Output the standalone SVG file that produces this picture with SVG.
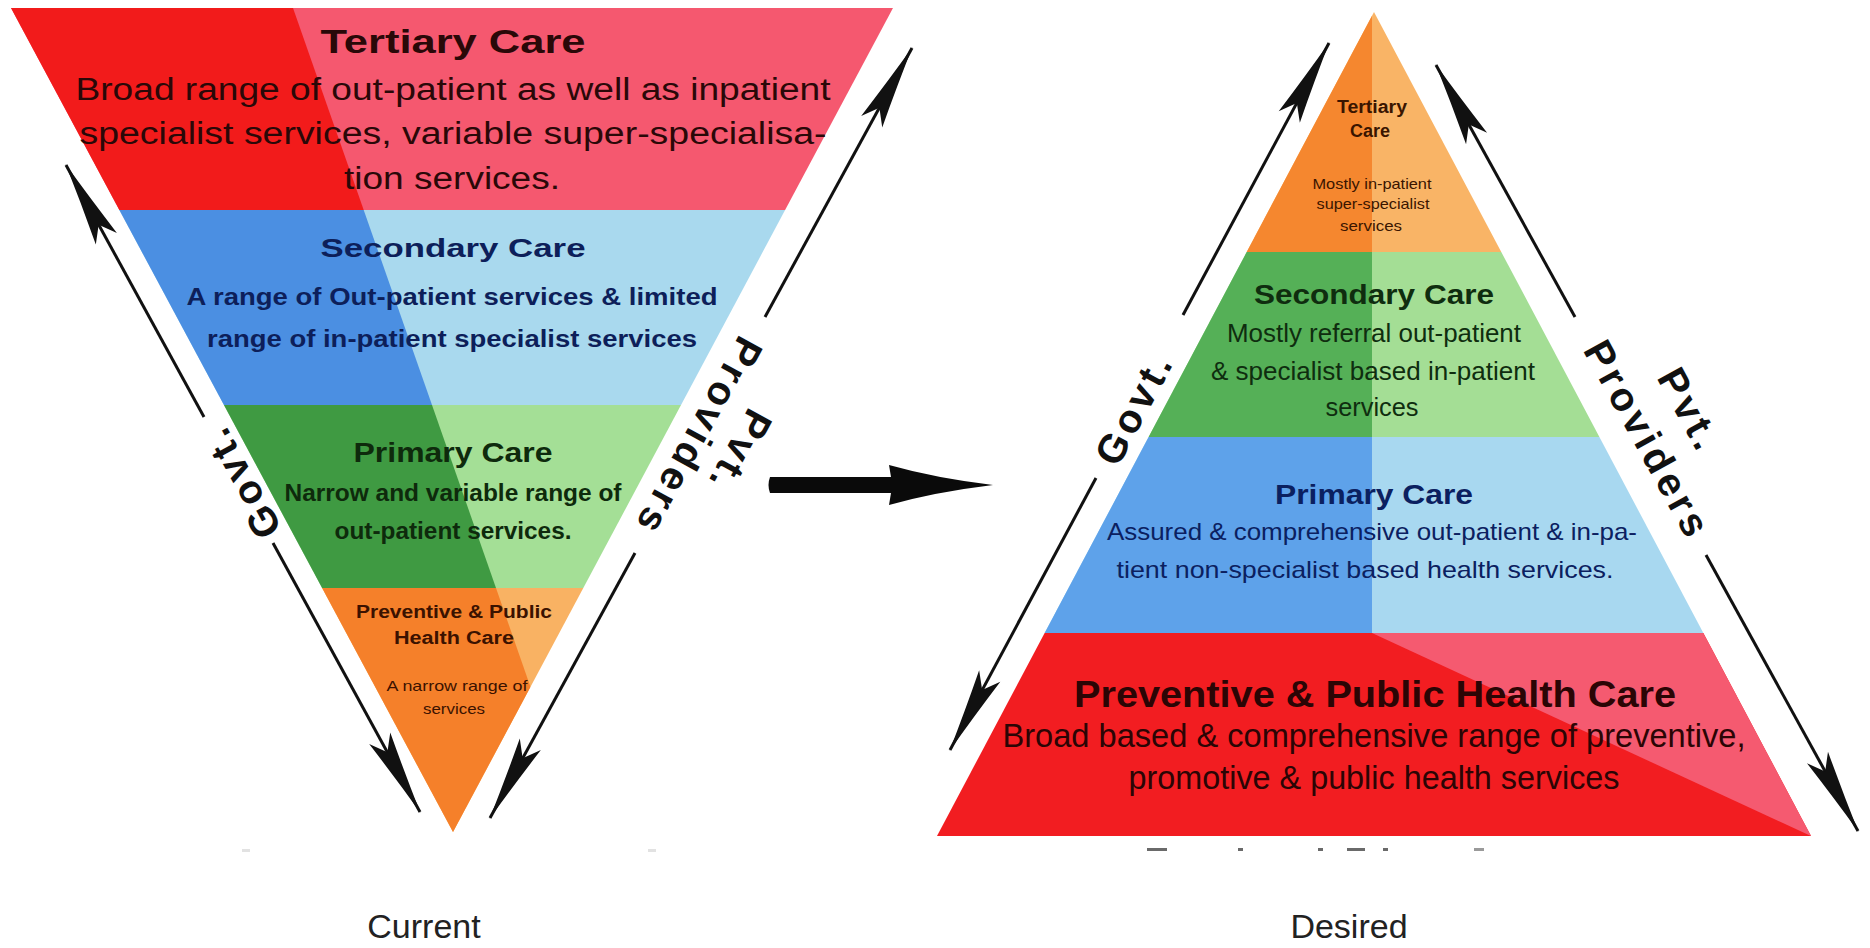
<svg xmlns="http://www.w3.org/2000/svg" width="1870" height="948" viewBox="0 0 1870 948">
<style>
.t{font-family:"Liberation Sans",Arial,sans-serif;text-anchor:middle}
.b{font-weight:bold}
.side{font-family:"Liberation Sans",Arial,sans-serif;font-weight:bold;font-size:40px;letter-spacing:4px;text-anchor:middle;fill:#111}
.ln{stroke:#111;stroke-width:3;fill:none}
.lab{font-family:"Liberation Sans",Arial,sans-serif;font-size:34px;text-anchor:middle;fill:#222}
.ct1{fill:#2a0808}.ct2{fill:#0d1f5a}.ct3{fill:#0e2a0c}.ct4{fill:#3b1200}
.dt1{fill:#3a1500}.dt2{fill:#0f2d0f}.dt3{fill:#0b2060}.dt4{fill:#2b0505}
</style>
<defs>
<clipPath id="invTri"><polygon points="11,8 893,8 453,832"/></clipPath>
<clipPath id="pyr"><polygon points="1374,12 1811,836 937,836"/></clipPath>
<marker id="ah" markerUnits="userSpaceOnUse" markerWidth="90" markerHeight="30" viewBox="-86 -15 90 30" refX="0" refY="0" orient="auto-start-reverse">
<path d="M1,0 Q-40,-5 -84,-12 L-68,0 L-84,12 Q-40,5 1,0 Z" fill="#111"/>
</marker>
</defs>
<rect width="1870" height="948" fill="#fff"/>

<g id="cur-tertiary">
<g clip-path="url(#invTri)">
<rect x="0" y="8" width="900" height="202" fill="#f5586f"/>
<polygon points="0,8 293,8 363.7,210 0,210" fill="#f21b1b"/>
</g>
<text class="t b ct1" x="453" y="53" font-size="33" textLength="265" lengthAdjust="spacingAndGlyphs">Tertiary Care</text>
<text class="t ct1" x="453" y="100" font-size="31" textLength="755" lengthAdjust="spacingAndGlyphs">Broad range of out-patient as well as inpatient</text>
<text class="t ct1" x="453" y="144" font-size="31" textLength="747" lengthAdjust="spacingAndGlyphs">specialist services, variable super-specialisa-</text>
<text class="t ct1" x="452" y="189" font-size="31" textLength="216" lengthAdjust="spacingAndGlyphs">tion services.</text>
</g>

<g id="cur-secondary">
<g clip-path="url(#invTri)">
<rect x="0" y="210" width="900" height="195" fill="#a9d9ee"/>
<polygon points="0,210 363.7,210 432,405 0,405" fill="#4b8fe2"/>
</g>
<text class="t b ct2" x="453" y="257" font-size="26" textLength="265" lengthAdjust="spacingAndGlyphs">Secondary Care</text>
<text class="t b ct2" x="452" y="305" font-size="23" textLength="531" lengthAdjust="spacingAndGlyphs">A range of Out-patient services &amp; limited</text>
<text class="t b ct2" x="452" y="347" font-size="23" textLength="490" lengthAdjust="spacingAndGlyphs">range of in-patient specialist services</text>
</g>

<g id="cur-primary">
<g clip-path="url(#invTri)">
<rect x="0" y="405" width="900" height="183" fill="#a4df96"/>
<polygon points="0,405 432,405 496,588 0,588" fill="#3f9a42"/>
</g>
<text class="t b ct3" x="453" y="462" font-size="27" textLength="199" lengthAdjust="spacingAndGlyphs">Primary Care</text>
<text class="t b ct3" x="453" y="501" font-size="23" textLength="337" lengthAdjust="spacingAndGlyphs">Narrow and variable range of</text>
<text class="t b ct3" x="453" y="539" font-size="23" textLength="237" lengthAdjust="spacingAndGlyphs">out-patient services.</text>
</g>

<g id="cur-preventive">
<g clip-path="url(#invTri)">
<rect x="0" y="588" width="900" height="250" fill="#f9b263"/>
<polygon points="0,588 496,588 581,832 0,832" fill="#f5802a"/>
</g>
<text class="t b ct4" x="454" y="618" font-size="18" textLength="196" lengthAdjust="spacingAndGlyphs">Preventive &amp; Public</text>
<text class="t b ct4" x="454" y="644" font-size="18" textLength="120" lengthAdjust="spacingAndGlyphs">Health Care</text>
<text class="t ct4" x="457" y="691" font-size="15" textLength="141" lengthAdjust="spacingAndGlyphs">A narrow range of</text>
<text class="t ct4" x="454" y="714" font-size="15" textLength="62" lengthAdjust="spacingAndGlyphs">services</text>
</g>

<g id="des-tertiary">
<g clip-path="url(#pyr)">
<rect x="900" y="10" width="1000" height="242" fill="#f9b466"/>
<rect x="900" y="10" width="472" height="242" fill="#f5872f"/>
</g>
<text class="t b dt1" x="1372" y="113" font-size="18" textLength="70" lengthAdjust="spacingAndGlyphs">Tertiary</text>
<text class="t b dt1" x="1370" y="137" font-size="18" textLength="40" lengthAdjust="spacingAndGlyphs">Care</text>
<text class="t dt1" x="1372" y="189" font-size="15" textLength="119" lengthAdjust="spacingAndGlyphs">Mostly in-patient</text>
<text class="t dt1" x="1373" y="209" font-size="15" textLength="113" lengthAdjust="spacingAndGlyphs">super-specialist</text>
<text class="t dt1" x="1371" y="231" font-size="15" textLength="62" lengthAdjust="spacingAndGlyphs">services</text>
</g>

<g id="des-secondary">
<g clip-path="url(#pyr)">
<rect x="900" y="252" width="1000" height="185" fill="#a4de95"/>
<rect x="900" y="252" width="472" height="185" fill="#55b057"/>
</g>
<text class="t b dt2" x="1374" y="304" font-size="27" textLength="240" lengthAdjust="spacingAndGlyphs">Secondary Care</text>
<text class="t dt2" x="1374" y="342" font-size="25" textLength="294" lengthAdjust="spacingAndGlyphs">Mostly referral out-patient</text>
<text class="t dt2" x="1373" y="380" font-size="25" textLength="324" lengthAdjust="spacingAndGlyphs">&amp; specialist based in-patient</text>
<text class="t dt2" x="1372" y="416" font-size="25" textLength="93" lengthAdjust="spacingAndGlyphs">services</text>
</g>

<g id="des-primary">
<g clip-path="url(#pyr)">
<rect x="900" y="437" width="1000" height="196" fill="#a8d8f0"/>
<rect x="900" y="437" width="472" height="196" fill="#5ea2ea"/>
</g>
<text class="t b dt3" x="1374" y="504" font-size="27" textLength="198" lengthAdjust="spacingAndGlyphs">Primary Care</text>
<text class="t dt3" x="1372" y="540" font-size="24" textLength="530" lengthAdjust="spacingAndGlyphs">Assured &amp; comprehensive out-patient &amp; in-pa-</text>
<text class="t dt3" x="1365" y="578" font-size="24" textLength="497" lengthAdjust="spacingAndGlyphs">tient non-specialist based health services.</text>
</g>

<g id="des-preventive">
<g clip-path="url(#pyr)">
<rect x="900" y="633" width="1000" height="205" fill="#f21d21"/>
<polygon points="1372,633 1850,633 1850,836 1811,836" fill="#f55a70"/>
</g>
<text class="t b dt4" x="1375" y="707" font-size="36" textLength="602" lengthAdjust="spacingAndGlyphs">Preventive &amp; Public Health Care</text>
<text class="t dt4" x="1374" y="747" font-size="33" textLength="743" lengthAdjust="spacingAndGlyphs">Broad based &amp; comprehensive range of preventive,</text>
<text class="t dt4" x="1374" y="789" font-size="33" textLength="491" lengthAdjust="spacingAndGlyphs">promotive &amp; public health services</text>
</g>

<g id="connectors">
<line class="ln" x1="66" y1="165" x2="204" y2="417" marker-start="url(#ah)"/>
<line class="ln" x1="273" y1="543" x2="420" y2="812" marker-end="url(#ah)"/>
<line class="ln" x1="912" y1="48" x2="765" y2="317" marker-start="url(#ah)"/>
<line class="ln" x1="635" y1="553" x2="490" y2="818" marker-end="url(#ah)"/>
<line class="ln" x1="1329" y1="43" x2="1183" y2="315" marker-start="url(#ah)"/>
<line class="ln" x1="1096" y1="478" x2="950" y2="750" marker-end="url(#ah)"/>
<line class="ln" x1="1436" y1="65" x2="1575" y2="317" marker-start="url(#ah)"/>
<line class="ln" x1="1706" y1="555" x2="1858" y2="831" marker-end="url(#ah)"/>
<path id="big-arrow" d="M770,477 H891 L889,465 Q935,478 993,485 Q935,492 889,505 L891,493 H770 Q767,485 770,477 Z" fill="#0a0a0a"/>
</g>

<g id="govt-current"><text class="side" transform="translate(241,482) rotate(-118.7)" y="14">Govt.</text></g>
<g id="pvt-current">
<text class="side" transform="translate(699,437) rotate(118.7)" y="14">Providers</text>
<text class="side" transform="translate(740,452) rotate(118.7)" y="14">Pvt.</text>
</g>
<g id="govt-desired"><text class="side" transform="translate(1134,408) rotate(-61.8)" y="14">Govt.</text></g>
<g id="pvt-desired">
<text class="side" transform="translate(1648,440) rotate(61.2)" y="14">Providers</text>
<text class="side" transform="translate(1690,410) rotate(61.2)" y="14">Pvt.</text>
</g>

<g id="remnants" fill="#6a6a6a">
<rect x="1147" y="848" width="20" height="3"/>
<rect x="1238" y="848" width="5" height="3"/>
<rect x="1318" y="848" width="5" height="3"/>
<rect x="1347" y="848" width="18" height="3"/>
<rect x="1383" y="848" width="5" height="3"/>
<rect x="1474" y="848" width="10" height="3" fill="#9a9a9a"/>
<rect x="242" y="849" width="8" height="3" fill="#e2e2e2"/>
<rect x="648" y="849" width="8" height="3" fill="#e2e2e2"/>
</g>

<g id="label-current"><text class="lab" x="424" y="938">Current</text></g>
<g id="label-desired"><text class="lab" x="1349" y="938">Desired</text></g>
</svg>
